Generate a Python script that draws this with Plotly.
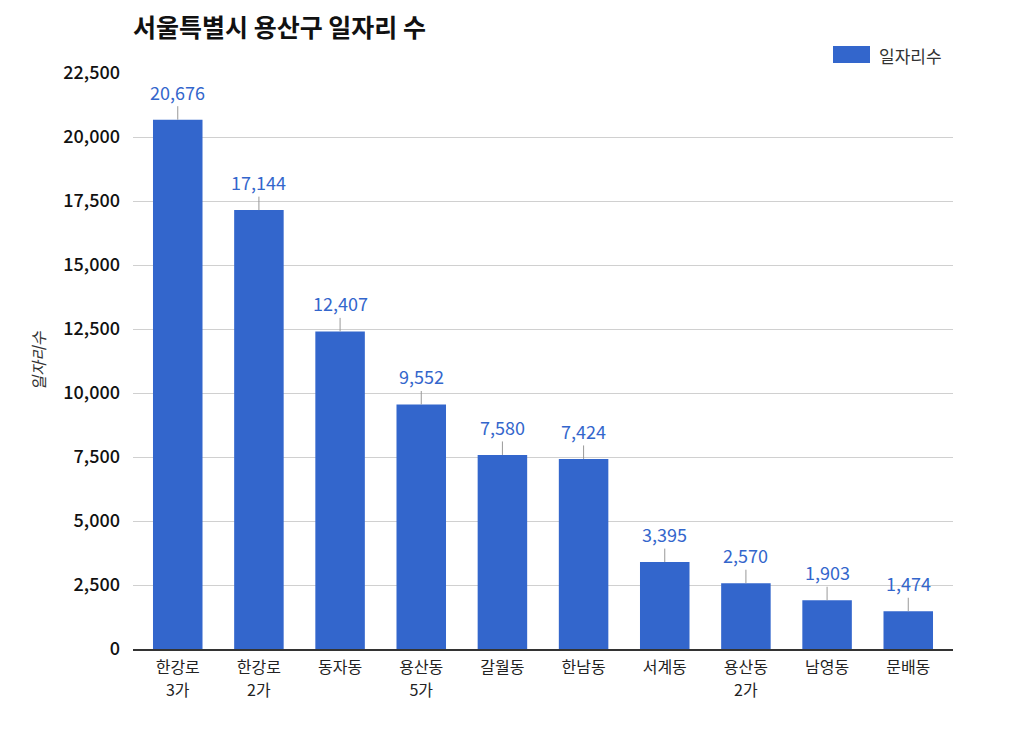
import plotly.graph_objects as go

categories = ["한강로 3가", "한강로 2가", "동자동", "용산동 5가", "갈월동",
              "한남동", "서계동", "용산동 2가", "남영동", "문배동"]
jobs = [20676, 17144, 12407, 9552, 7580, 7424, 3395, 2570, 1903, 1474]
y_ticks = [0, 2500, 5000, 7500, 10000, 12500, 15000, 17500, 20000, 22500]
series_name = "일자리수"
title_text = "서울특별시 용산구 일자리 수"

tick_line1 = [c.split(" ")[0] for c in categories]
tick_line2 = [c.split(" ")[1] if " " in c else "" for c in categories]

FONT = "Noto Sans CJK KR"
BAR = "#3366cc"

W, H = 1016, 730          # page body has an 8px margin
L, R, T, B = 125, 71, 65, 89
PW, PH = W - L - R, H - T - B

fig = go.Figure()
fig.add_trace(go.Bar(
    x=categories, y=jobs, name=series_name,
    marker=dict(color=BAR, line=dict(width=0)),
    width=0.61, showlegend=False, xaxis="x", yaxis="y",
))
# invisible twin used only to carry the second line of the category labels
fig.add_trace(go.Scatter(
    x=categories, y=jobs, mode="markers", marker=dict(opacity=0),
    showlegend=False, hoverinfo="skip", xaxis="x2", yaxis="y",
))

for c, v in zip(categories, jobs):
    fig.add_annotation(
        x=c, y=v, xref="x", yref="y",
        text=f"{v:,}", showarrow=True, arrowhead=0, arrowwidth=1,
        arrowcolor="#999999", ax=0, ay=-28, standoff=0,
        font=dict(family=FONT, size=18, color="#3366cc"),
    )

# legend (manual, wide swatch) - page coords minus 8px offset
def px(xp):
    return (xp - 8 - L) / PW

def py(yp):
    return 1 + (T - (yp - 8)) / PH

fig.add_shape(type="rect", xref="paper", yref="paper",
              x0=px(833), x1=px(870), y0=py(63), y1=py(46),
              fillcolor=BAR, line=dict(width=0))
fig.add_annotation(xref="paper", yref="paper", x=px(877), y=py(55),
                   xanchor="left", yanchor="middle",
                   text=series_name, showarrow=False,
                   font=dict(family=FONT, size=17, color="#333333"))

fig.update_layout(
    width=W, height=H,
    margin=dict(l=L, r=R, t=T, b=B),
    paper_bgcolor="white", plot_bgcolor="white",
    title=dict(text=f"<b>{title_text}</b>", x=(133 - 8) / W, xanchor="left",
               y=1 - (28 - 8) / H, yanchor="middle",
               font=dict(family=FONT, size=25, color="#111111")),
    font=dict(family=FONT, color="#222222"),
    xaxis=dict(
        type="category", categoryarray=categories,
        tickvals=categories, ticktext=tick_line1,
        tickfont=dict(family=FONT, size=16, color="#222222"),
        showline=True, linecolor="#333333", linewidth=1.5,
        ticks="", showgrid=False, ticklabelstandoff=3,
    ),
    xaxis2=dict(
        type="category", categoryarray=categories, matches="x",
        overlaying="x", anchor="y", side="bottom",
        tickvals=categories, ticktext=tick_line2,
        tickfont=dict(family=FONT, size=16, color="#222222"),
        showline=False, ticks="", showgrid=False, ticklabelstandoff=30,
    ),
    yaxis=dict(
        range=[0, 22500], tickvals=y_ticks,
        ticktext=[f"{t:,}" for t in y_ticks],
        tickfont=dict(family=FONT, size=18, color="#111111", weight=500),
        showgrid=True, gridcolor="#d0d0d0", gridwidth=1,
        zeroline=False, ticks="", ticklabelstandoff=12,
        title=dict(text=f"<i>{series_name}</i>",
                   font=dict(family=FONT, size=16, color="#333333"),
                   standoff=13),
    ),
)

fig.write_html("out.html")
